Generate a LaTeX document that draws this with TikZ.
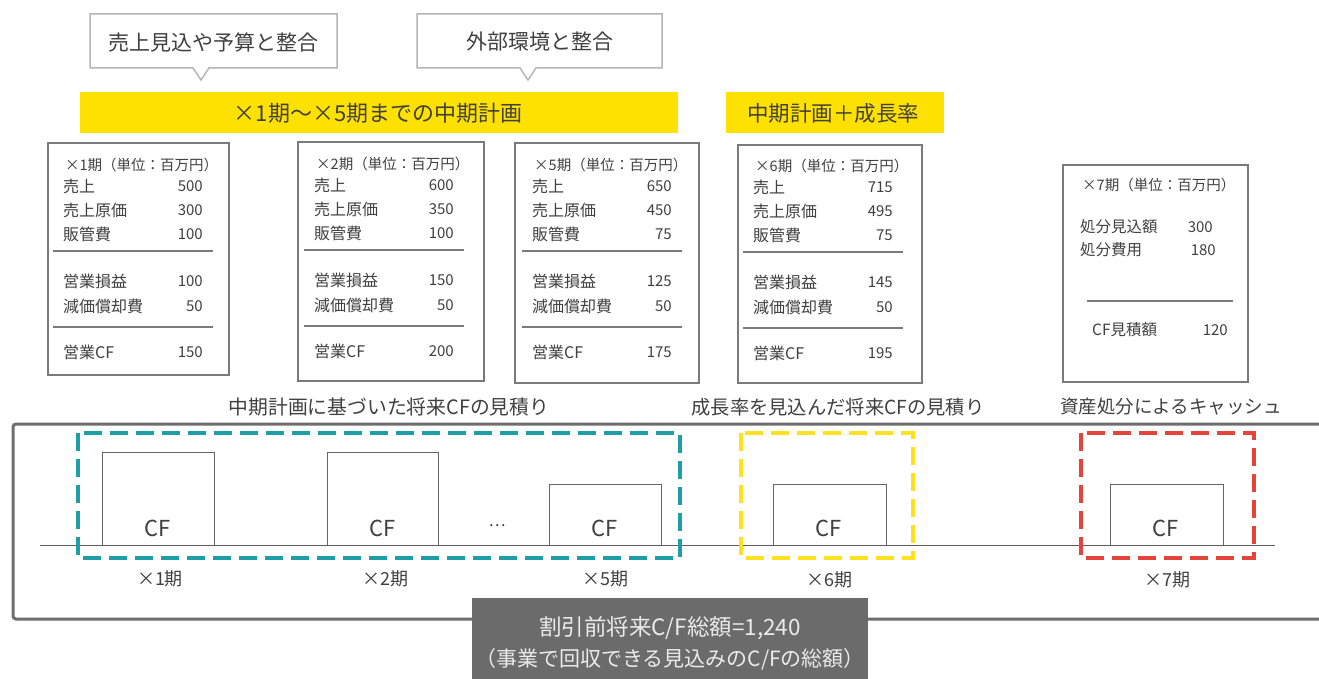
\documentclass[tikz,border=0pt]{standalone}
\usepackage{fontspec}
\setmainfont{Noto Sans CJK JP}
\definecolor{txt}{HTML}{404040}
\definecolor{tealc}{HTML}{1E9FA8}
\definecolor{yelbar}{HTML}{FFE100}
\definecolor{yeldash}{HTML}{FFE21F}
\definecolor{redc}{HTML}{E5443B}
\definecolor{boxgray}{HTML}{6B6B6B}
\definecolor{framegray}{HTML}{6E6E6E}
\definecolor{tabgray}{HTML}{7A7A7A}
\definecolor{callgray}{HTML}{B5B5B5}
\newcommand\fs[1]{\fontsize{#1}{#1}\selectfont}
\tikzset{
  txtnode/.style={inner sep=0pt, text=txt},
  lbl/.style={txtnode, anchor=west, font=\fs{16}},
  val/.style={txtnode, anchor=east, font=\fs{15}},
  hdr/.style={txtnode, anchor=west, font=\fs{14.5}},
  tabbox/.style={draw=tabgray, line width=1.5pt, fill=white},
  sepline/.style={draw=tabgray, line width=1.5pt},
  callout/.style={draw=callgray, line width=1.5pt, fill=white},
  yellowbar/.style={fill=yelbar, draw=none},
  cfbar/.style={draw=txt!80, line width=1pt, fill=white},
  cflbl/.style={txtnode, font=\fs{22}},
  perlbl/.style={txtnode, font=\fs{18}},
  caption/.style={txtnode, font=\fs{19.3}},
  dashbox/.style={line width=4pt, dash pattern=on 18pt off 8pt},
  frame/.style={draw=framegray, line width=3pt, rounded corners=3pt},
}
% #1 xl, #2 base y, #3 period, #4..#9 values
\newcommand\plantable[9]{%
  \node[hdr] (t#3h) at (#1+2,#2) {×#3期（単位：百万円）};
  \node[lbl] (t#3l1) at (#1,#2+21) {売上};
  \node[val] (t#3v1) at (#1+140,#2+21) {#4};
  \node[lbl] (t#3l2) at (#1,#2+45) {売上原価};
  \node[val] (t#3v2) at (#1+140,#2+45) {#5};
  \node[lbl] (t#3l3) at (#1,#2+69) {販管費};
  \node[val] (t#3v3) at (#1+140,#2+69) {#6};
  \draw[sepline] (#1-10,#2+86) -- (#1+150,#2+86);
  \node[lbl] (t#3l4) at (#1,#2+116) {営業損益};
  \node[val] (t#3v4) at (#1+140,#2+116) {#7};
  \node[lbl] (t#3l5) at (#1,#2+141) {減価償却費};
  \node[val] (t#3v5) at (#1+140,#2+141) {#8};
  \draw[sepline] (#1-10,#2+162) -- (#1+150,#2+162);
  \node[lbl] (t#3l6) at (#1,#2+187) {営業CF};
  \node[val] (t#3v6) at (#1+140,#2+187) {#9};
}
\begin{document}
\begin{tikzpicture}[x=1pt,y=-1pt]
\useasboundingbox[fill=white] (0,0) rectangle (1319,679);

% callouts
\draw[callout] (90,14) -- (337,14) -- (337,68) -- (209,68) -- (201,80) -- (193,68) -- (90,68) -- cycle;
\node[txtnode, font=\fs{21}] (c1) at (213,42) {売上見込や予算と整合};
\draw[callout] (417,14) -- (662,14) -- (662,68) -- (536,68) -- (528,80) -- (520,68) -- (417,68) -- cycle;
\node[txtnode, font=\fs{21}] (c2) at (540,42) {外部環境と整合};

% yellow bars
\fill[yellowbar] (80,92) rectangle (678,133);
\node[txtnode, font=\fs{22}] (y1) at (378,113) {×1期～×5期までの中期計画};
\fill[yellowbar] (726,92) rectangle (944,133);
\node[txtnode, font=\fs{21.5}] (y2) at (833,113) {中期計画＋成長率};

% tables
\draw[tabbox] (48,143) rectangle (229,375);
\plantable{63}{165}{1}{500}{300}{100}{100}{50}{150}
\draw[tabbox] (298,142) rectangle (484,381);
\plantable{314}{164}{2}{600}{350}{100}{150}{50}{200}
\draw[tabbox] (515,143) rectangle (699,383);
\plantable{532}{165}{5}{650}{450}{75}{125}{50}{175}
\draw[tabbox] (738,145) rectangle (922,383);
\plantable{753}{166}{6}{715}{495}{75}{145}{50}{195}

\draw[tabbox] (1063,165) rectangle (1248,382);
\node[hdr] (t7h) at (1082,185) {×7期（単位：百万円）};
\node[lbl, font=\fs{15.5}] (t7l1) at (1080,227) {処分見込額};
\node[val] (t7v1) at (1213,227) {300};
\node[lbl, font=\fs{15.5}] (t7l2) at (1080,250) {処分費用};
\node[val] (t7v2) at (1216,250) {180};
\draw[sepline] (1087,301) -- (1233,301);
\node[lbl, font=\fs{15.5}] (t7l3) at (1092,330) {CF見積額};
\node[val] (t7v3) at (1228,330) {120};

% captions
\node[caption, font=\fs{19.8}] (cap1) at (389,407) {中期計画に基づいた将来CFの見積り};
\node[caption] (cap2) at (838,407) {成長率を見込んだ将来CFの見積り};
\node[caption, font=\fs{18.5}] (cap3) at (1171,407) {資産処分によるキャッシュ};

% outer frame
\draw[frame] (1330,424) -- (13,424) -- (13,619) -- (1330,619);

% axis
\draw[draw=txt!85, line width=1pt] (40,545) -- (1275,545);

% CF bars
\draw[cfbar] (102,545) -- (102,452) -- (214,452) -- (214,545);
\node[cflbl] (cf1) at (158,528) {CF};
\draw[cfbar] (327,545) -- (327,452) -- (438,452) -- (438,545);
\node[cflbl] (cf2) at (383,528) {CF};
\node[txtnode, font=\fs{16}] (dots) at (497,526) {…};
\draw[cfbar] (549,545) -- (549,484) -- (661,484) -- (661,545);
\node[cflbl] (cf5) at (605,528) {CF};
\draw[cfbar] (773,545) -- (773,484) -- (886,484) -- (886,545);
\node[cflbl] (cf6) at (829,528) {CF};
\draw[cfbar] (1110,545) -- (1110,484) -- (1223,484) -- (1223,545);
\node[cflbl] (cf7) at (1166,528) {CF};

% dashed groups
\draw[dashbox, draw=tealc] (78,433) rectangle (680,558);
\draw[dashbox, draw=yeldash] (741,433) rectangle (913,558);
\draw[dashbox, draw=redc] (1081,433) rectangle (1254,558);

% period labels
\node[perlbl] (p1) at (160,579) {×1期};
\node[perlbl] (p2) at (385,579) {×2期};
\node[perlbl] (p5) at (605,579) {×5期};
\node[perlbl] (p6) at (829,580) {×6期};
\node[perlbl] (p7) at (1167,580) {×7期};

% total box
\fill[boxgray] (472,598) rectangle (868,690);
\node[txtnode, text=white!92!black, font=\fs{21}, align=center] (tot) at (670,643)
  {{\fs{22.5}割引前将来C/F総額=1,240}\\[8pt]（事業で回収できる見込みのC/Fの総額）};
\end{tikzpicture}
\end{document}
